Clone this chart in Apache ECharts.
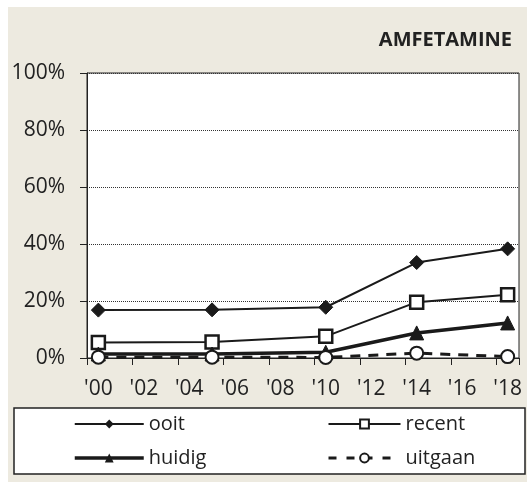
<!DOCTYPE html>
<html>
<head>
<meta charset="utf-8">
<script src="https://cdn.jsdelivr.net/npm/echarts@6/dist/echarts.min.js"></script>
<style>
  html, body { margin: 0; padding: 0; background: #ffffff; }
  #chart { width: 527px; height: 482px; }
</style>
</head>
<body>
<div id="chart"></div>
<script>
// Survey years (every year on the axis, measured only in some)
const years = ['2000','2001','2002','2003','2004','2005','2006','2007','2008','2009',
               '2010','2011','2012','2013','2014','2015','2016','2017','2018'];
const measuredYears = ['2000','2005','2010','2014','2018'];

// Prevalence in percent per measured year
const ooit    = [16.8, 16.9, 17.8, 33.5, 38.3];
const recent  = [5.4, 5.6, 7.6, 19.6, 22.2];
const huidig  = [1.4, 1.4, 2.0, 8.8, 12.3];
const uitgaan = [0.3, 0.3, 0.2, 1.7, 0.5];

const yTicks = [0, 20, 40, 60, 80, 100];

// Spread the measured values over the yearly category axis
function toYearly(values) {
  return years.map(y => {
    const i = measuredYears.indexOf(y);
    return i >= 0 ? values[i] : null;
  });
}

const FONT = '"Open Sans", "Noto Sans", sans-serif';
const INK = '#222222';

const chart = echarts.init(document.getElementById('chart'), null, { renderer: 'canvas' });

const legendText = { fontFamily: FONT, fontSize: 20, color: INK };

const option = {
  animation: false,
  backgroundColor: '#ffffff',
  textStyle: { fontFamily: FONT },
  graphic: [
    { type: 'rect', z: -10, shape: { x: 8, y: 7, width: 519, height: 475 },
      style: { fill: '#edeae0' } },
    { type: 'rect', z: -5, shape: { x: 14, y: 408, width: 511, height: 66 },
      style: { fill: '#ffffff', stroke: '#222222', lineWidth: 1.5 } }
  ],
  title: {
    text: 'AMFETAMINE',
    right: 10,
    top: 25,
    textStyle: { fontFamily: FONT, fontWeight: 'bold', fontSize: 20, color: INK }
  },
  grid: {
    left: 87, top: 73, right: 8, bottom: 124,
    show: true, backgroundColor: '#ffffff', borderColor: '#222222', borderWidth: 1
  },
  legend: [
    {
      data: [
        { name: 'ooit', lineStyle: { width: 2 } },
        { name: 'huidig', lineStyle: { width: 3.5 } }
      ],
      orient: 'vertical',
      left: 68, top: 409,
      itemWidth: 69, itemHeight: 11, itemGap: 14,
      textStyle: legendText
    },
    {
      data: [
        { name: 'recent', lineStyle: { width: 2 } },
        { name: 'uitgaan', lineStyle: { width: 3, type: [8, 10] } }
      ],
      orient: 'vertical',
      left: 322, top: 409,
      itemWidth: 72, itemHeight: 11, itemGap: 14,
      textStyle: legendText
    }
  ],
  xAxis: {
    type: 'category',
    data: years,
    boundaryGap: true,
    axisLine: { lineStyle: { color: '#222222', width: 1 } },
    axisTick: { show: true, interval: 1, length: 7, inside: false,
                lineStyle: { color: '#222222', width: 1 } },
    axisLabel: {
      interval: 1, margin: 21, fontFamily: FONT, fontSize: 21, color: INK,
      formatter: v => "'" + v.slice(2)
    },
    splitLine: { show: false }
  },
  yAxis: {
    type: 'value',
    min: yTicks[0], max: yTicks[yTicks.length - 1], interval: 20,
    axisLine: { show: true, lineStyle: { color: '#222222', width: 1 } },
    axisTick: { show: true, length: 7, lineStyle: { color: '#222222', width: 1 } },
    axisLabel: { margin: 22, fontFamily: FONT, fontSize: 21, color: INK,
                 formatter: v => v + '%' },
    splitLine: { show: true, lineStyle: { color: '#333333', width: 1, type: [1, 1] } }
  },
  series: [
    {
      name: 'ooit', type: 'line', data: toYearly(ooit), connectNulls: true,
      symbol: 'diamond', symbolSize: 14,
      lineStyle: { color: '#1a1a1a', width: 2 },
      itemStyle: { color: '#1a1a1a', borderColor: '#1a1a1a' }
    },
    {
      name: 'recent', type: 'line', data: toYearly(recent), connectNulls: true,
      symbol: 'rect', symbolSize: 13,
      lineStyle: { color: '#1a1a1a', width: 2 },
      itemStyle: { color: '#ffffff', borderColor: '#1a1a1a', borderWidth: 2.5 }
    },
    {
      name: 'huidig', type: 'line', data: toYearly(huidig), connectNulls: true,
      symbol: 'triangle', symbolSize: 14,
      lineStyle: { color: '#1a1a1a', width: 3.5 },
      itemStyle: { color: '#1a1a1a', borderColor: '#1a1a1a' }
    },
    {
      name: 'uitgaan', type: 'line', data: toYearly(uitgaan), connectNulls: true,
      symbol: 'circle', symbolSize: 13,
      lineStyle: { color: '#1a1a1a', width: 3, type: [10, 8] },
      itemStyle: { color: '#ffffff', borderColor: '#1a1a1a', borderWidth: 2 }
    }
  ]
};

chart.setOption(option);
</script>
</body>
</html>
